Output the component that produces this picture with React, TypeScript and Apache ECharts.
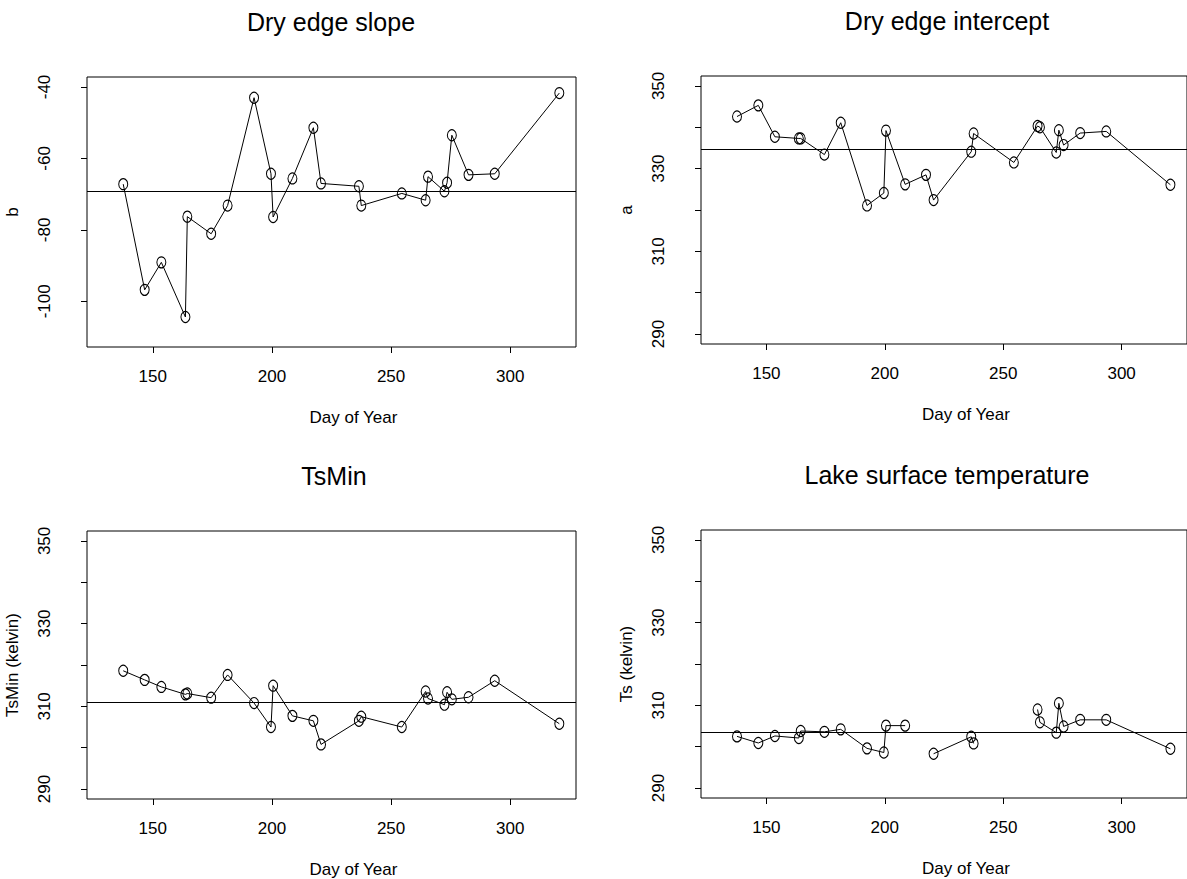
import React, { useEffect, useRef } from "react";
import * as echarts from "echarts";

// Day of year (shared by all four panels)
const days = [137.6, 146.6, 153.6, 163.7, 164.5, 174.5, 181.4, 192.5, 199.6, 200.5, 208.6, 217.4, 220.6, 236.5, 237.5, 254.5, 264.5, 265.5, 272.4, 273.5, 275.5, 282.5, 293.5, 320.6];

const drySlope = [-67.2, -96.8, -89.1, -104.4, -76.3, -81.1, -73.2, -43.0, -64.3, -76.4, -65.6, -51.4, -67.0, -67.8, -73.2, -69.8, -71.7, -65.1, -69.2, -66.8, -53.5, -64.6, -64.3, -41.7];
const dryIntercept = [342.6, 345.3, 337.7, 337.3, 337.3, 333.4, 341.1, 321.1, 324.1, 339.2, 326.2, 328.5, 322.4, 334.1, 338.5, 331.5, 340.3, 340.0, 333.9, 339.3, 335.7, 338.6, 339.0, 326.1];
const tsMin = [318.6, 316.4, 314.7, 312.9, 313.1, 312.1, 317.6, 310.8, 305.0, 315.0, 307.7, 306.5, 300.8, 306.5, 307.5, 305.0, 313.6, 311.9, 310.4, 313.4, 311.7, 312.2, 316.2, 305.8];
const lakeTs = [302.5, 300.9, 302.6, 302.1, 303.8, 303.6, 304.2, 299.6, 298.6, 305.1, 305.1, null, 298.3, 302.4, 300.8, null, 309.0, 305.9, 303.4, 310.5, 304.9, 306.5, 306.5, 299.5];

// Horizontal reference (mean) levels
const meanLevels = [-69.2, 334.6, 311.1, 303.4];

const titles = ["Dry edge slope", "Dry edge intercept", "TsMin", "Lake surface temperature"];
const yNames = ["b", "a", "TsMin (kelvin)", "Ts (kelvin)"];
const xName = "Day of Year";

const xTicks = [150, 200, 250, 300];
const slopeTicks = [-100, -80, -60, -40];
const tempTicks = [290, 300, 310, 320, 330, 340, 350];
const tempLabels = [290, 310, 330, 350];

const FONT = "Liberation Sans, Arial, Helvetica, sans-serif";

export default function App() {
  const ref = useRef<HTMLDivElement>(null);

  useEffect(() => {
    if (!ref.current) return;
    const chart = echarts.init(ref.current, null, { renderer: "svg" });

    const panels = [
      { vals: drySlope, yMin: -112.8, yMax: -37.2, ticks: slopeTicks, labels: slopeTicks },
      { vals: dryIntercept, yMin: 287.6, yMax: 352.4, ticks: tempTicks, labels: tempLabels },
      { vals: tsMin, yMin: 287.6, yMax: 352.4, ticks: tempTicks, labels: tempLabels },
      { vals: lakeTs, yMin: 287.6, yMax: 352.4, ticks: tempTicks, labels: tempLabels },
    ];

    const lefts = [87, 701, 87, 701];
    const tops = [77, 76, 531, 530];
    const W = 489;
    const heights = [270, 268, 268, 268];
    const titleCenters = [331, 947, 334, 947];

    const grid = panels.map((_, i) => ({
      left: lefts[i],
      top: tops[i],
      width: W,
      height: heights[i],
      show: true,
      borderColor: "#000",
      borderWidth: 1,
      backgroundColor: "transparent",
      containLabel: false,
    }));

    const xAxis = panels.map((_, i) => ({
      type: "value",
      gridIndex: i,
      min: 122.4,
      max: 327.6,
      name: xName,
      nameLocation: "middle",
      nameGap: 62,
      nameTextStyle: { color: "#000", fontSize: 17, fontFamily: FONT, padding: [0, 0, 0, 44] },
      axisLine: { show: false },
      splitLine: { show: false },
      axisTick: { show: true, length: 6, customValues: xTicks, lineStyle: { color: "#000", width: 1 } },
      axisLabel: { show: true, customValues: xTicks, margin: 21, color: "#000", fontSize: 17, fontFamily: FONT },
    }));

    const yAxis = panels.map((p, i) => ({
      type: "value",
      gridIndex: i,
      min: p.yMin,
      max: p.yMax,
      name: yNames[i],
      nameLocation: "middle",
      nameGap: 66,
      nameRotate: 90,
      nameTextStyle: { color: "#000", fontSize: 17, fontFamily: FONT },
      axisLine: { show: false },
      splitLine: { show: false },
      axisTick: { show: true, length: 6, customValues: p.ticks, lineStyle: { color: "#000", width: 1 } },
      axisLabel: { show: true, customValues: p.labels, rotate: 90, margin: 34, color: "#000", fontSize: 17, fontFamily: FONT },
    }));

    const series = panels.map((p, i) => ({
      type: "line",
      xAxisIndex: i,
      yAxisIndex: i,
      data: days.map((d, j) => [d, p.vals[j]]),
      connectNulls: false,
      symbol: "circle",
      symbolSize: [9, 11],
      showSymbol: true,
      itemStyle: { color: "transparent", borderColor: "#000", borderWidth: 1.1 },
      lineStyle: { color: "#000", width: 1 },
      emphasis: { disabled: true },
      silent: true,
      markLine: {
        silent: true,
        symbol: "none",
        label: { show: false },
        lineStyle: { color: "#000", width: 1, type: "solid" },
        data: [{ yAxis: meanLevels[i] }],
      },
    }));

    const graphic = titles.map((t, i) => ({
      type: "text",
      x: titleCenters[i],
      y: tops[i] - 55,
      style: {
        text: t,
        fill: "#000",
        fontSize: 25,
        fontFamily: FONT,
        textAlign: "center",
        textVerticalAlign: "middle",
      },
    }));

    chart.setOption({
      animation: false,
      backgroundColor: "#fff",
      textStyle: { fontFamily: FONT },
      grid,
      xAxis,
      yAxis,
      series,
      graphic,
    } as any);

    return () => chart.dispose();
  }, []);

  return (
    <div
      ref={ref}
      style={{ position: "absolute", left: 0, top: 0, width: 1187, height: 879, background: "#fff" }}
    />
  );
}
